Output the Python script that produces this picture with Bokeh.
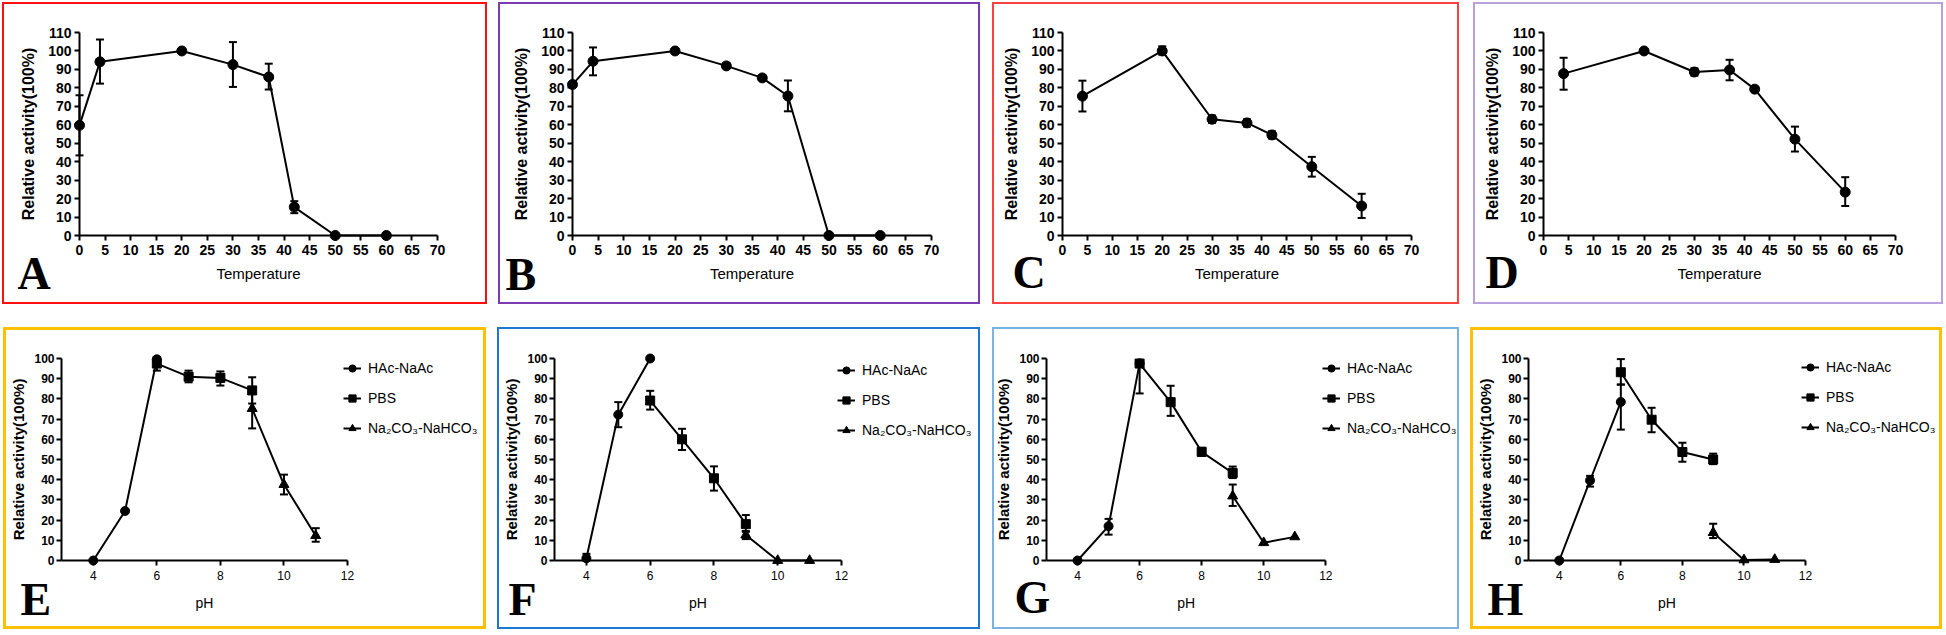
from bokeh.plotting import figure
from bokeh.layouts import column, row
from bokeh.models import Range1d, Legend, LegendItem, Spacer
from bokeh.core.properties import value
from bokeh.embed import file_html
from bokeh.resources import INLINE

# ---------------- data ----------------
temp_ticks = [0, 5, 10, 15, 20, 25, 30, 35, 40, 45, 50, 55, 60, 65, 70]
temp_act_ticks = [0, 10, 20, 30, 40, 50, 60, 70, 80, 90, 100, 110]
ph_ticks = [4, 6, 8, 10, 12]
ph_act_ticks = [0, 10, 20, 30, 40, 50, 60, 70, 80, 90, 100]
ph_axis_start = 3

# Temperature panels (A-D): x = temperature, y = relative activity, lo/hi = error bar ends
temp_A = [0, 4, 20, 30, 37, 42, 50, 60]
act_A = [59.7, 94.1, 100, 92.6, 85.9, 15.4, 0, 0]
lo_A = [43.4, 82.3, 100, 80.5, 79.1, 12.1, 0, 0]
hi_A = [76.0, 106.2, 100, 104.8, 93.1, 18.6, 0, 0]

temp_B = [0, 4, 20, 30, 37, 42, 50, 60]
act_B = [81.8, 94.4, 100, 91.9, 85.4, 75.6, 0, 0]
lo_B = [81.8, 86.8, 100, 91.9, 85.4, 67.3, 0, 0]
hi_B = [81.8, 101.9, 100, 91.9, 85.4, 84.0, 0, 0]

temp_C = [4, 20, 30, 37, 42, 50, 60]
act_C = [75.5, 100, 63, 61, 54.5, 37.3, 16]
lo_C = [67.2, 98, 61, 59, 52.5, 31.9, 9.5]
hi_C = [83.9, 102.5, 65, 63, 56.5, 42.6, 22.6]

temp_D = [4, 20, 30, 37, 42, 50, 60]
act_D = [87.7, 100, 88.6, 89.7, 79.3, 52.2, 23.5]
lo_D = [79.0, 100, 86.6, 84.1, 79.3, 45.5, 16.0]
hi_D = [96.3, 100, 90.6, 95.2, 79.3, 59.0, 31.6]

# pH panels (E-H): three buffers
buffer_names = ["HAc-NaAc", "PBS", "Na\u2082CO\u2083-NaHCO\u2083"]
ph_hac = [4, 5, 6]
ph_pbs = [6, 7, 8, 9]
ph_na = [9, 10, 11]

hac_E = [0, 24.5, 99.6]
hac_lo_E = [0, 23.5, 98.5]
hac_hi_E = [0, 25.5, 100.8]
pbs_E = [97.5, 91, 90.4, 84.2]
pbs_lo_E = [94, 88.2, 86.6, 77.7]
pbs_hi_E = [100.5, 94, 93.6, 90.7]
na_E = [75.2, 37.6, 12.3]
na_lo_E = [65.4, 32.7, 9.3]
na_hi_E = [85, 42.5, 16]

hac_F = [1.1, 72.2, 100]
hac_lo_F = [0, 66, 100]
hac_hi_F = [3.3, 78.4, 100]
pbs_F = [79.2, 60, 40.7, 18]
pbs_lo_F = [74.7, 54.7, 34.6, 14.2]
pbs_hi_F = [84, 65.2, 46.6, 22.5]
na_F = [12.6, 0, 0]
na_lo_F = [10.6, 0, 0]
na_hi_F = [14.6, 0, 0]

hac_G = [0, 17, 97.6]
hac_lo_G = [0, 12.8, 82.7]
hac_hi_G = [0, 20.6, 99]
pbs_G = [97.5, 78.4, 53.8, 43.3]
pbs_lo_G = [96, 71.6, 51.8, 40.8]
pbs_hi_G = [99, 86.5, 55.8, 46.5]
na_G = [31.9, 8.8, 11.7]
na_lo_G = [27, 8.8, 11.7]
na_hi_G = [37.6, 8.8, 11.7]

hac_H = [0, 39.6, 78.5]
hac_lo_H = [0, 36.6, 64.8]
hac_hi_H = [0, 41.9, 87.1]
pbs_H = [93.2, 69.7, 53.7, 50]
pbs_lo_H = [87.1, 63.5, 48.9, 47.7]
pbs_hi_H = [99.7, 75.6, 58.3, 52.9]
na_H = [13.8, 0.3, 0.5]
na_lo_H = [11.1, 0.3, 0.5]
na_hi_H = [18.2, 0.3, 0.5]

FONT = "Liberation Sans"
PANEL_H = 302


def make_fig(w, h, left, top, right, bottom, xr, yr, color, bw):
    p = figure(width=w, height=h, x_range=Range1d(*xr), y_range=Range1d(*yr),
               output_backend="svg", toolbar_location=None,
               min_border_left=left, min_border_top=top,
               min_border_right=right, min_border_bottom=bottom)
    p.xgrid.visible = False
    p.ygrid.visible = False
    p.outline_line_color = None
    p.background_fill_color = None
    p.border_fill_color = None
    p.styles = {"outline": f"{bw}px solid {color}", "outline-offset": f"-{bw}px"}
    return p


def style_axes(p, xticks, yticks, xlabel, xl_size, yl_size, xt_size, yt_size,
               xt_style, yt_style, x_std, x_lab_std, y_std, y_lab_std):
    xa = p.xaxis[0]
    ya = p.yaxis[0]
    for ax in (xa, ya):
        ax.axis_line_width = 2
        ax.axis_line_color = "black"
        ax.major_tick_line_width = 2
        ax.major_tick_line_color = "black"
        ax.major_tick_out = 5
        ax.major_tick_in = 0
        ax.minor_tick_line_color = None
        ax.major_label_text_color = "black"
        ax.major_label_text_font = FONT
        ax.axis_label_text_font = FONT
        ax.axis_label_text_color = "black"
    xa.ticker = xticks
    ya.ticker = yticks
    if xlabel:
        xa.axis_label = xlabel
    xa.axis_label_text_font_size = xl_size
    xa.axis_label_text_font_style = "normal"
    xa.major_label_text_font_size = xt_size
    xa.major_label_text_font_style = xt_style
    xa.major_label_standoff = x_std
    xa.axis_label_standoff = x_lab_std
    ya.axis_label = "Relative activity(100%)"
    ya.axis_label_text_font_size = yl_size
    ya.axis_label_text_font_style = "bold"
    ya.major_label_text_font_size = yt_size
    ya.major_label_text_font_style = yt_style
    ya.major_label_standoff = y_std
    ya.axis_label_standoff = y_lab_std


def draw_series(p, xs, ys, lo, hi, marker, size):
    r_line = p.line(xs, ys, line_color="black", line_width=2, level="overlay")
    ex = [x for x, l, h in zip(xs, lo, hi) if h > l]
    el = [l for l, h in zip(lo, hi) if h > l]
    eh = [h for l, h in zip(lo, hi) if h > l]
    if ex:
        p.segment(x0=ex, y0=el, x1=ex, y1=eh, line_color="black", line_width=2, level="overlay")
        p.scatter(ex, el, marker="dash", size=8, line_color="black", line_width=2, level="overlay")
        p.scatter(ex, eh, marker="dash", size=8, line_color="black", line_width=2, level="overlay")
    r_m = p.scatter(xs, ys, marker=marker, size=size, fill_color="black",
                    line_color="black", level="overlay")
    return r_line, r_m


def add_letter(p, letter, xr, yr, dx, dy):
    # dy: distance of the letter's baseline below the frame; anchor at the cap middle
    p.text(x=[xr[0]], y=[yr[0]], text=[letter], x_offset=dx, y_offset=dy - 16,
           text_font=value("Liberation Serif"), text_font_style="bold",
           text_font_size="46px", text_color="black", text_baseline="middle",
           text_align="left", level="overlay")


# layout specs: width, frame left, frame top, frame w, frame h, letter x (panel local),
# letter baseline below frame, border colour, border width
temp_specs = [
    ("A", temp_A, act_A, lo_A, hi_A, 485, 77, 30, 358, 203, 15, 54, "#ff0f0f", 2),
    ("B", temp_B, act_B, lo_B, hi_B, 482, 74, 30, 359, 203, 7, 55, "#7a3cb0", 2),
    ("C", temp_C, act_C, lo_C, hi_C, 467, 70, 29, 349, 205, 20, 53, "#ff4040", 2),
    ("D", temp_D, act_D, lo_D, hi_D, 470, 70, 29, 352, 206, 12, 53, "#b9a2dc", 2),
]

temp_figs = []
for (letter, xs, ys, lo, hi, w, left, top, fw, fh, lx, ldy, color, bw) in temp_specs:
    xr = (temp_ticks[0], temp_ticks[-1])
    yr = (temp_act_ticks[0], temp_act_ticks[-1])
    p = make_fig(w, PANEL_H, left, top, w - left - fw, PANEL_H - top - fh, xr, yr, color, bw)
    style_axes(p, temp_ticks, temp_act_ticks, "Temperature", "15px", "16px", "14px", "14px",
               "bold", "bold", 4, 7, 3, 8)
    draw_series(p, xs, ys, lo, hi, "circle", 10)
    add_letter(p, letter, xr, yr, lx - left, ldy)
    temp_figs.append(p)

ph_specs = [
    ("E", (hac_E, hac_lo_E, hac_hi_E), (pbs_E, pbs_lo_E, pbs_hi_E), (na_E, na_lo_E, na_hi_E),
     483, 58, 29, 286, 204, 17, 55, "#ffc000", 3, 122),
    ("F", (hac_F, hac_lo_F, hac_hi_F), (pbs_F, pbs_lo_F, pbs_hi_F), (na_F, na_lo_F, na_hi_F),
     483, 57, 31, 287, 204, 11, 55, "#1f78d0", 2, 120),
    ("G", (hac_G, hac_lo_G, hac_hi_G), (pbs_G, pbs_lo_G, pbs_hi_G), (na_G, na_lo_G, na_hi_G),
     467, 53, 30, 280, 205, 21, 53, "#7ab2e2", 2, 122),
    ("H", (hac_H, hac_lo_H, hac_hi_H), (pbs_H, pbs_lo_H, pbs_hi_H), (na_H, na_lo_H, na_hi_H),
     472, 58, 30, 277, 205, 17, 55, "#ffc000", 3, 123),
]

ph_figs = []
for (letter, hac, pbs, na, w, left, top, fw, fh, lx, ldy, color, bw, lgy) in ph_specs:
    # the frame is widened to the right so the legend sits inside it; the x axis keeps bounds 3..12
    extra_px = w - left - fw - 2
    x_end = ph_ticks[-1] + extra_px * (ph_ticks[-1] - ph_axis_start) / fw
    xr = (ph_axis_start, x_end)
    yr = (ph_act_ticks[0], ph_act_ticks[-1])
    p = make_fig(w, PANEL_H, left, top, 2, PANEL_H - top - fh, xr, yr, color, bw)
    style_axes(p, ph_ticks, ph_act_ticks, None, "14px", "15px", "12px", "12px",
               "normal", "bold", 5, 10, 2, 4)
    p.xaxis[0].bounds = (ph_axis_start, ph_ticks[-1])
    # x-axis title, centred under the bounded axis
    p.text(x=[(ph_axis_start + ph_ticks[-1]) / 2], y=[ph_act_ticks[0]], text=["pH"],
           y_offset=42, text_font=value(FONT), text_font_size="14px", text_color="black",
           text_align="center", text_baseline="middle", level="overlay")
    items = []
    for name, xs, (ys, lo, hi), mk, sz in zip(buffer_names, [ph_hac, ph_pbs, ph_na],
                                              [hac, pbs, na],
                                              ["circle", "square", "triangle"], [9, 9, 10]):
        rl, rm = draw_series(p, xs, ys, lo, hi, mk, sz)
        items.append(LegendItem(label=name, renderers=[rl, rm]))
    legend = Legend(items=items, location=(fw - 4, lgy), orientation="vertical",
                    border_line_color=None, background_fill_alpha=0, padding=0, margin=0,
                    spacing=10, glyph_width=18, glyph_height=20, label_standoff=7,
                    label_height=20, label_text_font_size="14px", label_text_font=FONT,
                    label_text_color="black")
    p.add_layout(legend)
    add_letter(p, letter, xr, yr, lx - left, ldy)
    ph_figs.append(p)

row1 = row(Spacer(width=2, height=PANEL_H), temp_figs[0], Spacer(width=11, height=PANEL_H),
           temp_figs[1], Spacer(width=12, height=PANEL_H), temp_figs[2],
           Spacer(width=14, height=PANEL_H), temp_figs[3])
row2 = row(Spacer(width=3, height=PANEL_H), ph_figs[0], Spacer(width=11, height=PANEL_H),
           ph_figs[1], Spacer(width=12, height=PANEL_H), ph_figs[2],
           Spacer(width=11, height=PANEL_H), ph_figs[3])
layout = column(Spacer(width=10, height=2), row1, Spacer(width=10, height=23), row2)

open("out.html", "w").write(file_html(layout, INLINE, title="Relative activity vs temperature and pH"))
